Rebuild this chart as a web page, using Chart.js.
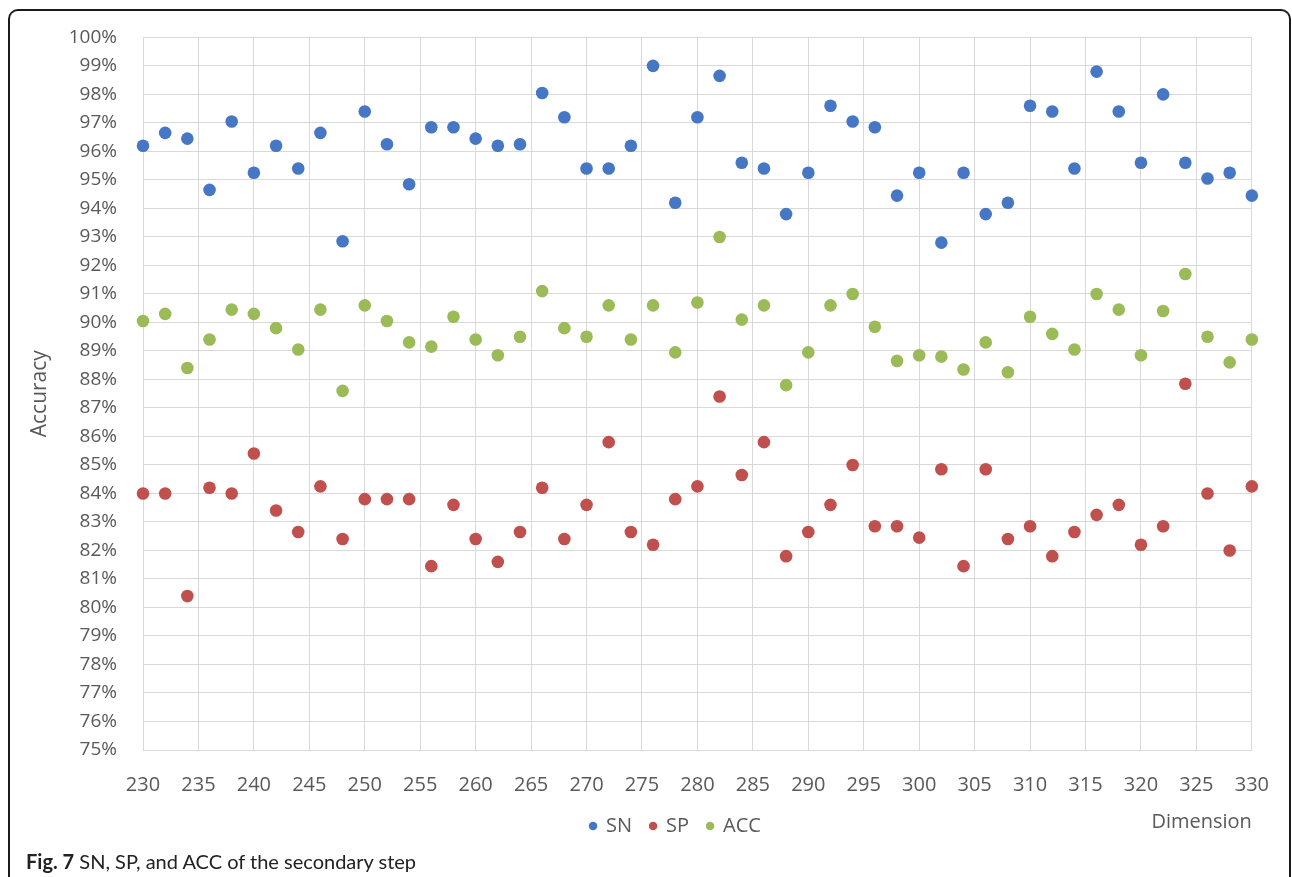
<!DOCTYPE html>
<html>
<head>
<meta charset="utf-8">
<script src="https://cdn.jsdelivr.net/npm/chart.js@4/dist/chart.umd.min.js"></script>
<style>
  html, body { margin: 0; padding: 0; background: #fff; width: 1292px; height: 877px; overflow: hidden; }
  #frame { position: absolute; left: 8px; top: 9px; width: 1279px; height: 900px;
           border: 2px solid #1a1a1a; border-bottom: none; border-radius: 10px 10px 0 0; box-sizing: content-box; }
  #wrap { position: absolute; left: 0; top: 0; width: 1292px; height: 877px; }
  #caption { position: absolute; left: 26px; top: 848px; font-family: Lato, 'Open Sans', sans-serif;
             font-size: 20px; color: #222; white-space: nowrap; line-height: 26px; }
  #caption b { font-weight: 700; }
</style>
</head>
<body>
<div id="frame"></div>
<div id="wrap"><canvas id="c" width="1292" height="877"></canvas></div>
<div id="caption"><b>Fig. 7</b> SN, SP, and ACC of the secondary step</div>
<script>
// Dimension (x) values
const dimensions = [230, 232, 234, 236, 238, 240, 242, 244, 246, 248,
                    250, 252, 254, 256, 258, 260, 262, 264, 266, 268,
                    270, 272, 274, 276, 278, 280, 282, 284, 286, 288,
                    290, 292, 294, 296, 298, 300, 302, 304, 306, 308,
                    310, 312, 314, 316, 318, 320, 322, 324, 326, 328, 330];

// SN (%)
const snValues = [96.2, 96.65, 96.45, 94.65, 97.05, 95.25, 96.2, 95.4, 96.65, 92.85,
                  97.4, 96.25, 94.85, 96.85, 96.85, 96.45, 96.2, 96.25, 98.05, 97.2,
                  95.4, 95.4, 96.2, 99.0, 94.2, 97.2, 98.65, 95.6, 95.4, 93.8,
                  95.25, 97.6, 97.05, 96.85, 94.45, 95.25, 92.8, 95.25, 93.8, 94.2,
                  97.6, 97.4, 95.4, 98.8, 97.4, 95.6, 98.0, 95.6, 95.05, 95.25, 94.45];

// SP (%)
const spValues = [84.0, 84.0, 80.4, 84.2, 84.0, 85.4, 83.4, 82.65, 84.25, 82.4,
                  83.8, 83.8, 83.8, 81.45, 83.6, 82.4, 81.6, 82.65, 84.2, 82.4,
                  83.6, 85.8, 82.65, 82.2, 83.8, 84.25, 87.4, 84.65, 85.8, 81.8,
                  82.65, 83.6, 85.0, 82.85, 82.85, 82.45, 84.85, 81.45, 84.85, 82.4,
                  82.85, 81.8, 82.65, 83.25, 83.6, 82.2, 82.85, 87.85, 84.0, 82.0, 84.25];

// ACC (%)
const accValues = [90.05, 90.3, 88.4, 89.4, 90.45, 90.3, 89.8, 89.05, 90.45, 87.6,
                   90.6, 90.05, 89.3, 89.15, 90.2, 89.4, 88.85, 89.5, 91.1, 89.8,
                   89.5, 90.6, 89.4, 90.6, 88.95, 90.7, 93.0, 90.1, 90.6, 87.8,
                   88.95, 90.6, 91.0, 89.85, 88.65, 88.85, 88.8, 88.35, 89.3, 88.25,
                   90.2, 89.6, 89.05, 91.0, 90.45, 88.85, 90.4, 91.7, 89.5, 88.6, 89.4];

const seriesNames = ['SN', 'SP', 'ACC'];
const seriesColors = ['#4677C4', '#C0504D', '#9BBB59'];
const xAxisTitle = 'Dimension';
const yAxisTitle = 'Accuracy';

const seriesValues = [snValues, spValues, accValues];
const datasets = seriesNames.map((name, i) => ({
  label: name,
  data: dimensions.map((d, j) => ({ x: d, y: seriesValues[i][j] })),
  backgroundColor: seriesColors[i],
  borderColor: seriesColors[i],
  borderWidth: 0,
  pointRadius: 6.3,
  pointHoverRadius: 6.3,
  clip: false
}));

Chart.defaults.font.family = "'Open Sans', sans-serif";
Chart.defaults.color = '#595959';

// shift the legend box so its items are centred like the original
const legendShift = {
  id: 'legendShift',
  afterLayout(chart) {
    if (chart.legend) { chart.legend.left += 97; }
  }
};

new Chart(document.getElementById('c'), {
  type: 'scatter',
  data: { datasets },
  plugins: [legendShift],
  options: {
    responsive: false,
    animation: false,
    devicePixelRatio: 1,
    layout: { padding: { left: 0, right: 38, top: 36, bottom: 31 } },
    plugins: {
      legend: {
        position: 'bottom',
        align: 'center',
        labels: {
          usePointStyle: true,
          pointStyle: 'circle',
          boxWidth: 6,
          boxHeight: 6,
          padding: 18,
          color: '#595959',
          font: { size: 20 }
        }
      },
      tooltip: { enabled: false }
    },
    scales: {
      x: {
        type: 'linear',
        min: 230,
        max: 330,
        afterFit: (s) => { s.height = 48; },
        ticks: { stepSize: 5, padding: 23, color: '#595959', font: { size: 20 } },
        grid: { color: '#d9d9d9', lineWidth: 1, drawTicks: false },
        border: { color: '#d9d9d9', width: 1 },
        title: { display: true, text: xAxisTitle, align: 'end', color: '#595959',
                 font: { size: 20 }, padding: { top: 0, bottom: -36 } }
      },
      y: {
        min: 75,
        max: 100,
        afterFit: (s) => { s.width = 143; },
        ticks: { stepSize: 1, padding: 26, color: '#595959', font: { size: 19 },
                 callback: (v) => v + '%' },
        grid: { color: '#d9d9d9', lineWidth: 1, drawTicks: false },
        border: { color: '#d9d9d9', width: 1 },
        title: { display: true, text: yAxisTitle, color: '#595959',
                 font: { size: 21 }, padding: { top: 27, bottom: 0 } }
      }
    }
  }
});
</script>
</body>
</html>
